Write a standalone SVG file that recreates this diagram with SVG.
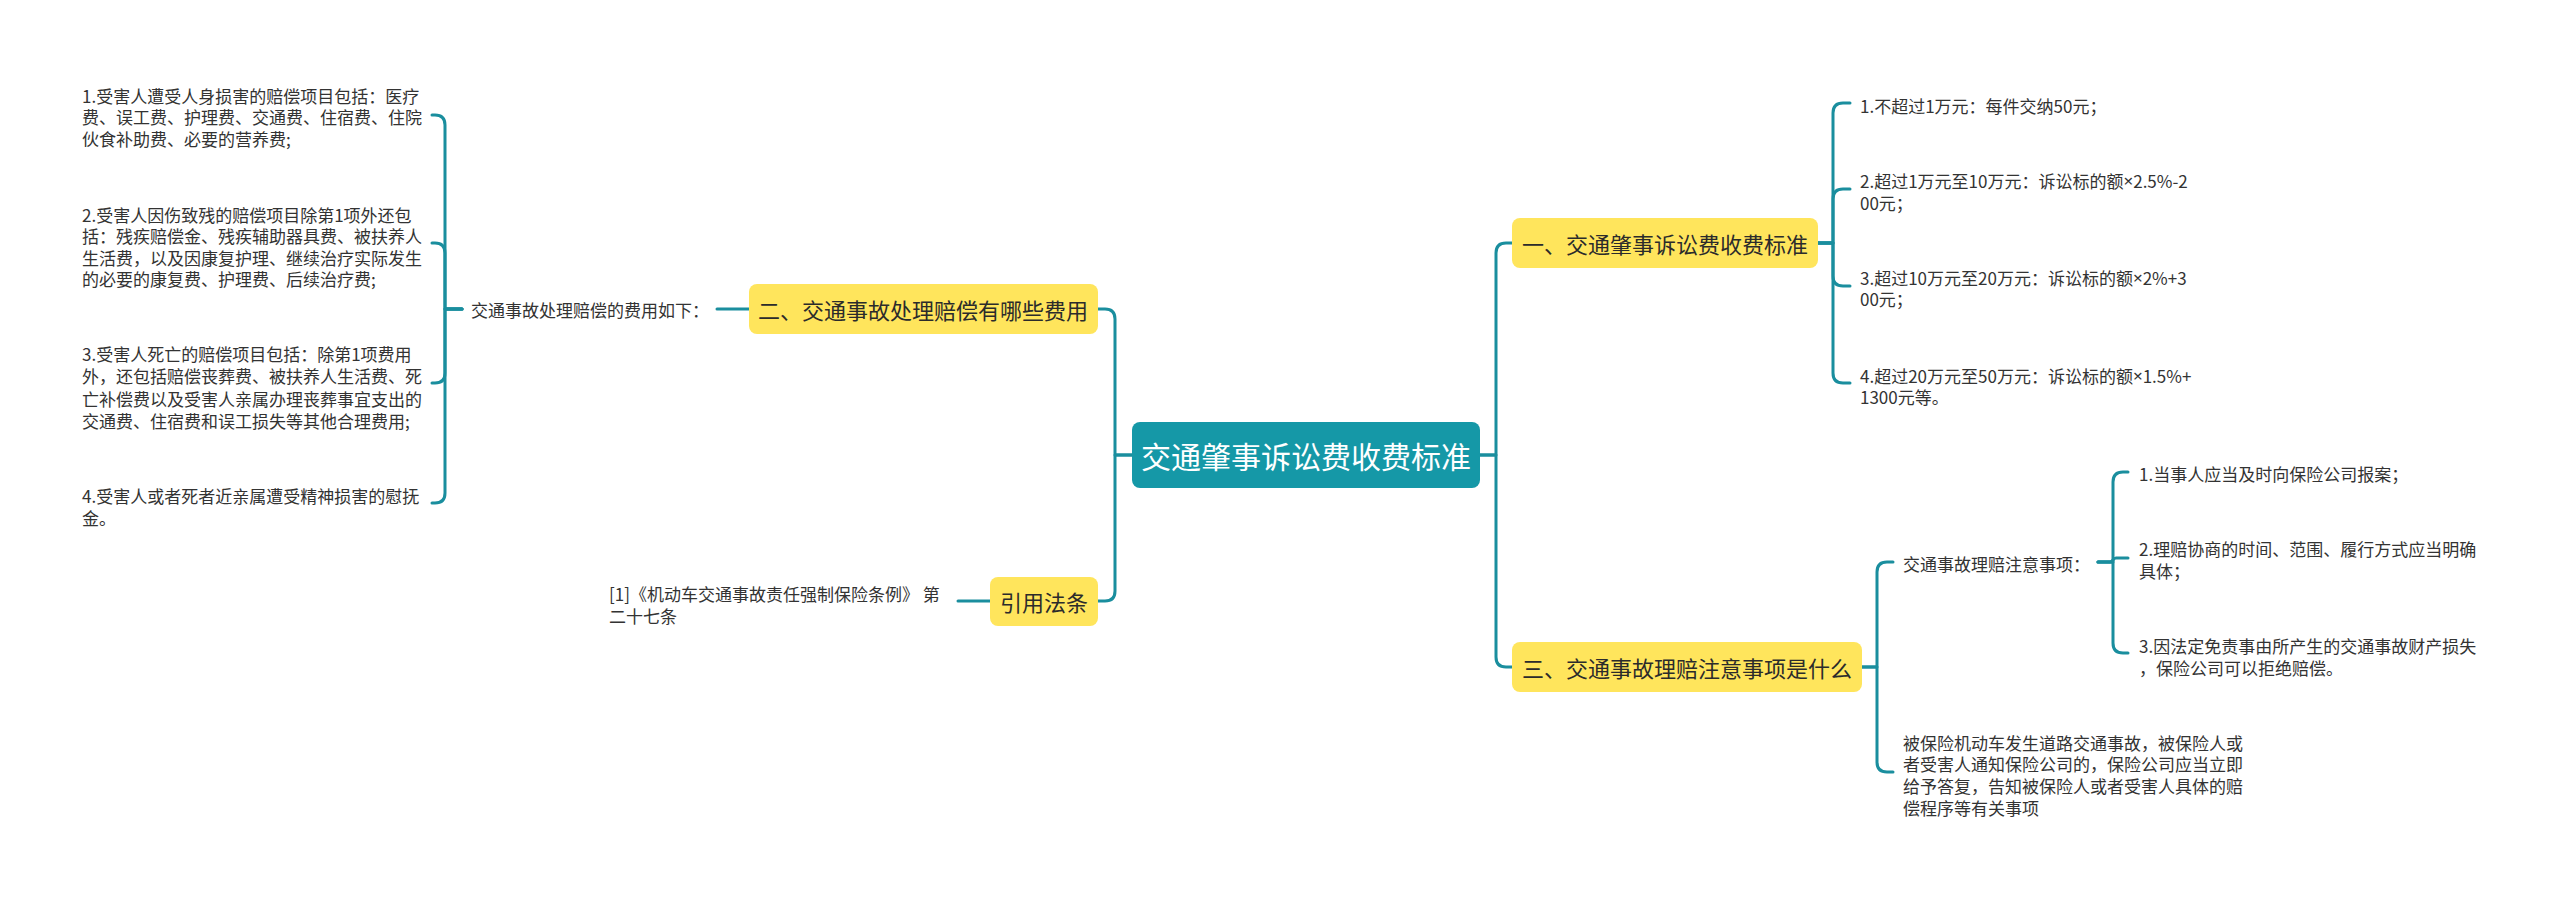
<svg xmlns="http://www.w3.org/2000/svg" width="2560" height="898" viewBox="0 0 2560 898">
<style>
.bg{fill:#ffffff}
.link{fill:none;stroke:#1a8e9e;stroke-width:3;stroke-linecap:round;stroke-linejoin:round}
.root{fill:#1598a7}
.sec{fill:#ffe55c}
.rt{font-family:"Noto Sans CJK SC","Noto Sans",sans-serif;font-size:30px;fill:#ffffff;text-anchor:middle;dominant-baseline:central}
.st{font-family:"Noto Sans CJK SC","Noto Sans",sans-serif;font-size:22px;fill:#2b2b2b;text-anchor:middle;dominant-baseline:central}
.t{font-family:"Noto Sans CJK SC","Noto Sans",sans-serif;font-size:17px;fill:#333333;dominant-baseline:central}
.x{font-family:"Noto Sans","DejaVu Sans",sans-serif}
</style>
<rect class="bg" x="0" y="0" width="2560" height="898"/>
<g id="connectors">
<path class="link" d="M1132,455 H1115 V319 Q1115,309 1105,309 H1098"/>
<path class="link" d="M1132,455 H1115 V591 Q1115,601 1105,601 H1098"/>
<path class="link" d="M1480,455 H1496 V253 Q1496,243 1506,243 H1512"/>
<path class="link" d="M1480,455 H1496 V657 Q1496,667 1506,667 H1512"/>
<path class="link" d="M1818,243 H1833 V113 Q1833,103 1843,103 H1850"/>
<path class="link" d="M1818,243 H1833 V199 Q1833,189 1843,189 H1850"/>
<path class="link" d="M1818,243 H1833 V276 Q1833,286 1843,286 H1850"/>
<path class="link" d="M1818,243 H1833 V373 Q1833,383 1843,383 H1850"/>
<path class="link" d="M1862,667 H1877 V572 Q1877,562 1887,562 H1893"/>
<path class="link" d="M1862,667 H1877 V762 Q1877,772 1887,772 H1893"/>
<path class="link" d="M2098,562 H2113 V482 Q2113,472 2123,472 H2128"/>
<path class="link" d="M2098,562 H2110 C2113,562 2113,558 2116,558 H2128"/>
<path class="link" d="M2098,562 H2113 V643 Q2113,653 2123,653 H2128"/>
<path class="link" d="M749,309 H717"/>
<path class="link" d="M462,309 H445 V125 Q445,115 435,115 H432"/>
<path class="link" d="M462,309 H445 V253 Q445,243 435,243 H432"/>
<path class="link" d="M462,309 H445 V373 Q445,383 435,383 H432"/>
<path class="link" d="M462,309 H445 V493 Q445,503 435,503 H432"/>
<path class="link" d="M990,601 H958"/>
</g>
<g id="root">
<rect class="root" x="1132" y="422" width="348" height="66" rx="8"/>
<text class="rt" x="1306" y="455">交通肇事诉讼费收费标准</text>
</g>
<g id="sec1">
<rect class="sec" x="1512" y="218" width="306" height="50" rx="8"/>
<text class="st" x="1665" y="243">一、交通肇事诉讼费收费标准</text>
</g>
<g id="sec1-items">
<text class="t" x="1860" y="105">1.不超过1万元：每件交纳50元；</text>
<text class="t" x="1860" y="180">2.超过1万元至10万元：诉讼标的额<tspan class="x">×</tspan>2.5%-2</text>
<text class="t" x="1860" y="202">00元；</text>
<text class="t" x="1860" y="277">3.超过10万元至20万元：诉讼标的额<tspan class="x">×</tspan>2%+3</text>
<text class="t" x="1860" y="298">00元；</text>
<text class="t" x="1860" y="375">4.超过20万元至50万元：诉讼标的额<tspan class="x">×</tspan>1.5%+</text>
<text class="t" x="1860" y="396">1300元等。</text>
</g>
<g id="sec3">
<rect class="sec" x="1512" y="642" width="350" height="50" rx="8"/>
<text class="st" x="1687" y="667">三、交通事故理赔注意事项是什么</text>
</g>
<g id="sec3-notes">
<text class="t" x="1903" y="563">交通事故理赔注意事项：</text>
</g>
<g id="sec3-notes-items">
<text class="t" x="2139" y="473">1.当事人应当及时向保险公司报案；</text>
<text class="t" x="2139" y="548">2.理赔协商的时间、范围、履行方式应当明确</text>
<text class="t" x="2139" y="570">具体；</text>
<text class="t" x="2139" y="645">3.因法定免责事由所产生的交通事故财产损失</text>
<text class="t" x="2139" y="667">，保险公司可以拒绝赔偿。</text>
</g>
<g id="sec3-reply">
<text class="t" x="1903" y="742">被保险机动车发生道路交通事故，被保险人或</text>
<text class="t" x="1903" y="763">者受害人通知保险公司的，保险公司应当立即</text>
<text class="t" x="1903" y="785">给予答复，告知被保险人或者受害人具体的赔</text>
<text class="t" x="1903" y="807">偿程序等有关事项</text>
</g>
<g id="sec2">
<rect class="sec" x="749" y="284" width="349" height="50" rx="8"/>
<text class="st" x="923" y="309">二、交通事故处理赔偿有哪些费用</text>
</g>
<g id="sec2-fees">
<text class="t" x="471" y="309">交通事故处理赔偿的费用如下：</text>
</g>
<g id="sec2-items">
<text class="t" x="82" y="95">1.受害人遭受人身损害的赔偿项目包括：医疗</text>
<text class="t" x="82" y="116">费、误工费、护理费、交通费、住宿费、住院</text>
<text class="t" x="82" y="138">伙食补助费、必要的营养费;</text>
<text class="t" x="82" y="214">2.受害人因伤致残的赔偿项目除第1项外还包</text>
<text class="t" x="82" y="235">括：残疾赔偿金、残疾辅助器具费、被扶养人</text>
<text class="t" x="82" y="257">生活费，以及因康复护理、继续治疗实际发生</text>
<text class="t" x="82" y="278">的必要的康复费、护理费、后续治疗费;</text>
<text class="t" x="82" y="353">3.受害人死亡的赔偿项目包括：除第1项费用</text>
<text class="t" x="82" y="375">外，还包括赔偿丧葬费、被扶养人生活费、死</text>
<text class="t" x="82" y="398">亡补偿费以及受害人亲属办理丧葬事宜支出的</text>
<text class="t" x="82" y="420">交通费、住宿费和误工损失等其他合理费用;</text>
<text class="t" x="82" y="495">4.受害人或者死者近亲属遭受精神损害的慰抚</text>
<text class="t" x="82" y="517">金。</text>
</g>
<g id="cite">
<rect class="sec" x="990" y="577" width="108" height="49" rx="8"/>
<text class="st" x="1044" y="601">引用法条</text>
</g>
<g id="cite-ref">
<text class="t" x="609" y="593">[1]《机动车交通事故责任强制保险条例》 第</text>
<text class="t" x="609" y="615">二十七条</text>
</g>
</svg>
